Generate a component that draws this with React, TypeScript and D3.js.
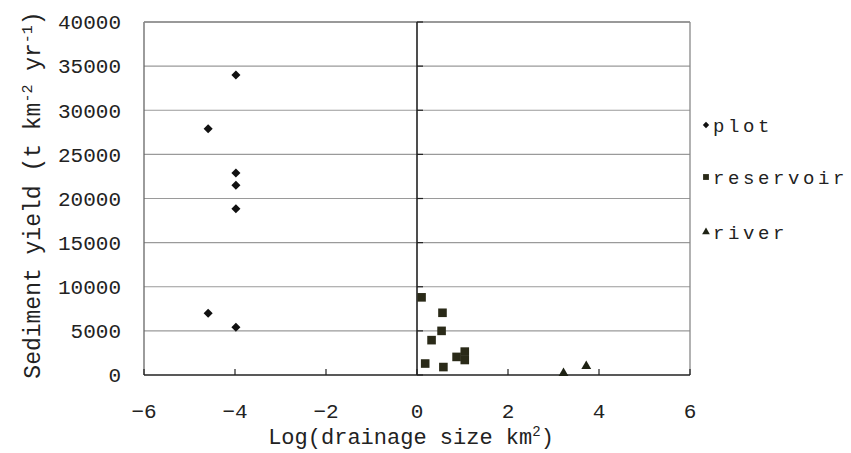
import React from 'react';
import * as d3 from 'd3';

const width = 851;
const height = 453;
const margin = { top: 22, right: 161, bottom: 78, left: 144 };

// log10 of drainage area (km2) vs sediment yield (t km-2 yr-1)
const plotX = [-3.98, -4.59, -3.98, -3.98, -3.98, -4.59, -3.98];
const plotY = [34000, 27900, 22900, 21500, 18850, 7000, 5400];

const reservoirX = [0.1, 0.56, 0.54, 0.32, 0.18, 0.58, 0.87, 1.05, 1.05];
const reservoirY = [8800, 7050, 5000, 3950, 1300, 900, 2050, 2650, 1700];

const riverX = [3.22, 3.72];
const riverY = [200, 1000];

const xTicks = [-6, -4, -2, 0, 2, 4, 6];
const yTicks = [0, 5000, 10000, 15000, 20000, 25000, 30000, 35000, 40000];

const seriesNames = ['plot', 'reservoir', 'river'];
const seriesColors = ['#111111', '#2a2a18', '#1e2214'];

const mono = '"Liberation Mono", "DejaVu Sans Mono", monospace';

const xScale = d3.scaleLinear().domain([-6, 6]).range([margin.left, width - margin.right]);
const yScale = d3.scaleLinear().domain([0, 40000]).range([height - margin.bottom, margin.top]);

const diamond = d3.symbol().type(d3.symbolDiamond2).size(52)();
const square = d3.symbol().type(d3.symbolSquare).size(74)();
const triangle = d3.symbol().type(d3.symbolTriangle).size(42)();

const legendDiamond = d3.symbol().type(d3.symbolDiamond2).size(26)();
const legendSquare = d3.symbol().type(d3.symbolSquare).size(34)();
const legendTriangle = d3.symbol().type(d3.symbolTriangle).size(26)();

export default function App() {
    const x0 = margin.left;
    const x1 = width - margin.right;
    const y0 = height - margin.bottom;
    const y1 = margin.top;
    const zeroX = xScale(0);

    const series = [
        { xs: plotX, ys: plotY, shape: diamond },
        { xs: reservoirX, ys: reservoirY, shape: square },
        { xs: riverX, ys: riverY, shape: triangle },
    ];
    const legendShapes = [legendDiamond, legendSquare, legendTriangle];
    const legendY = [125, 177, 232];

    return (
        <svg width={width} height={height} style={{ position: 'absolute', left: 0, top: 0, background: '#fff' }}>
            {/* gridlines */}
            {yTicks.filter(t => t > 0).map(t => (
                <line key={'g' + t} x1={x0} x2={x1} y1={yScale(t)} y2={yScale(t)} stroke="#9a9a9a" strokeWidth={1.2} />
            ))}

            {/* frame */}
            <line x1={x0} x2={x0} y1={y1} y2={y0} stroke="#666" strokeWidth={1.3} />
            <line x1={x1} x2={x1} y1={y1} y2={y0} stroke="#888" strokeWidth={1.3} />
            <line x1={x0} x2={x1} y1={y1} y2={y1} stroke="#888" strokeWidth={1.3} />

            {/* y axis at x = 0 */}
            <line x1={zeroX} x2={zeroX} y1={y1} y2={y0} stroke="#222" strokeWidth={1.6} />
            {yTicks.map(t => (
                <line key={'yt' + t} x1={zeroX} x2={zeroX + 6} y1={yScale(t)} y2={yScale(t)} stroke="#222" strokeWidth={1.2} />
            ))}

            {/* x axis */}
            <line x1={x0} x2={x1} y1={y0} y2={y0} stroke="#222" strokeWidth={1.6} />
            {xTicks.map(t => (
                <line key={'xt' + t} x1={xScale(t)} x2={xScale(t)} y1={y0} y2={y0 - 6} stroke="#222" strokeWidth={1.2} />
            ))}

            {/* tick labels */}
            {yTicks.map(t => (
                <text key={'yl' + t} x={121} y={yScale(t)} dy="0.35em" textAnchor="end"
                    fontFamily={mono} fontSize={21} fill="#222">{t}</text>
            ))}
            {xTicks.map(t => (
                <text key={'xl' + t} x={xScale(t)} y={411} dy="0.35em" textAnchor="middle"
                    fontFamily={mono} fontSize={21} fill="#222">{t < 0 ? '\u2212' + Math.abs(t) : t}</text>
            ))}

            {/* axis titles */}
            <text x={411} y={444} textAnchor="middle" fontFamily={mono} fontSize={22} fill="#222">
                Log(drainage size km<tspan fontSize={14} baselineShift="super">2</tspan>)
            </text>
            <text transform={`translate(40, 195) rotate(-90)`} textAnchor="middle"
                fontFamily={mono} fontSize={23} fill="#222">
                Sediment yield (t km<tspan fontSize={15} baselineShift="super">-2</tspan> yr<tspan fontSize={15} baselineShift="super">-1</tspan>)
            </text>

            {/* points */}
            {series.map((s, si) => s.xs.map((xv, i) => (
                <path key={si + '-' + i} d={s.shape || ''} fill={seriesColors[si]}
                    transform={`translate(${xScale(xv)}, ${yScale(s.ys[i])})`} />
            )))}

            {/* legend */}
            {seriesNames.map((name, i) => (
                <g key={name} transform={`translate(706, ${legendY[i]})`}>
                    <path d={legendShapes[i] || ''} fill={seriesColors[i]} />
                    <text x={7} dy="0.35em" fontFamily={mono} fontSize={19} letterSpacing={3.6} fill="#222">{name}</text>
                </g>
            ))}
        </svg>
    );
}
